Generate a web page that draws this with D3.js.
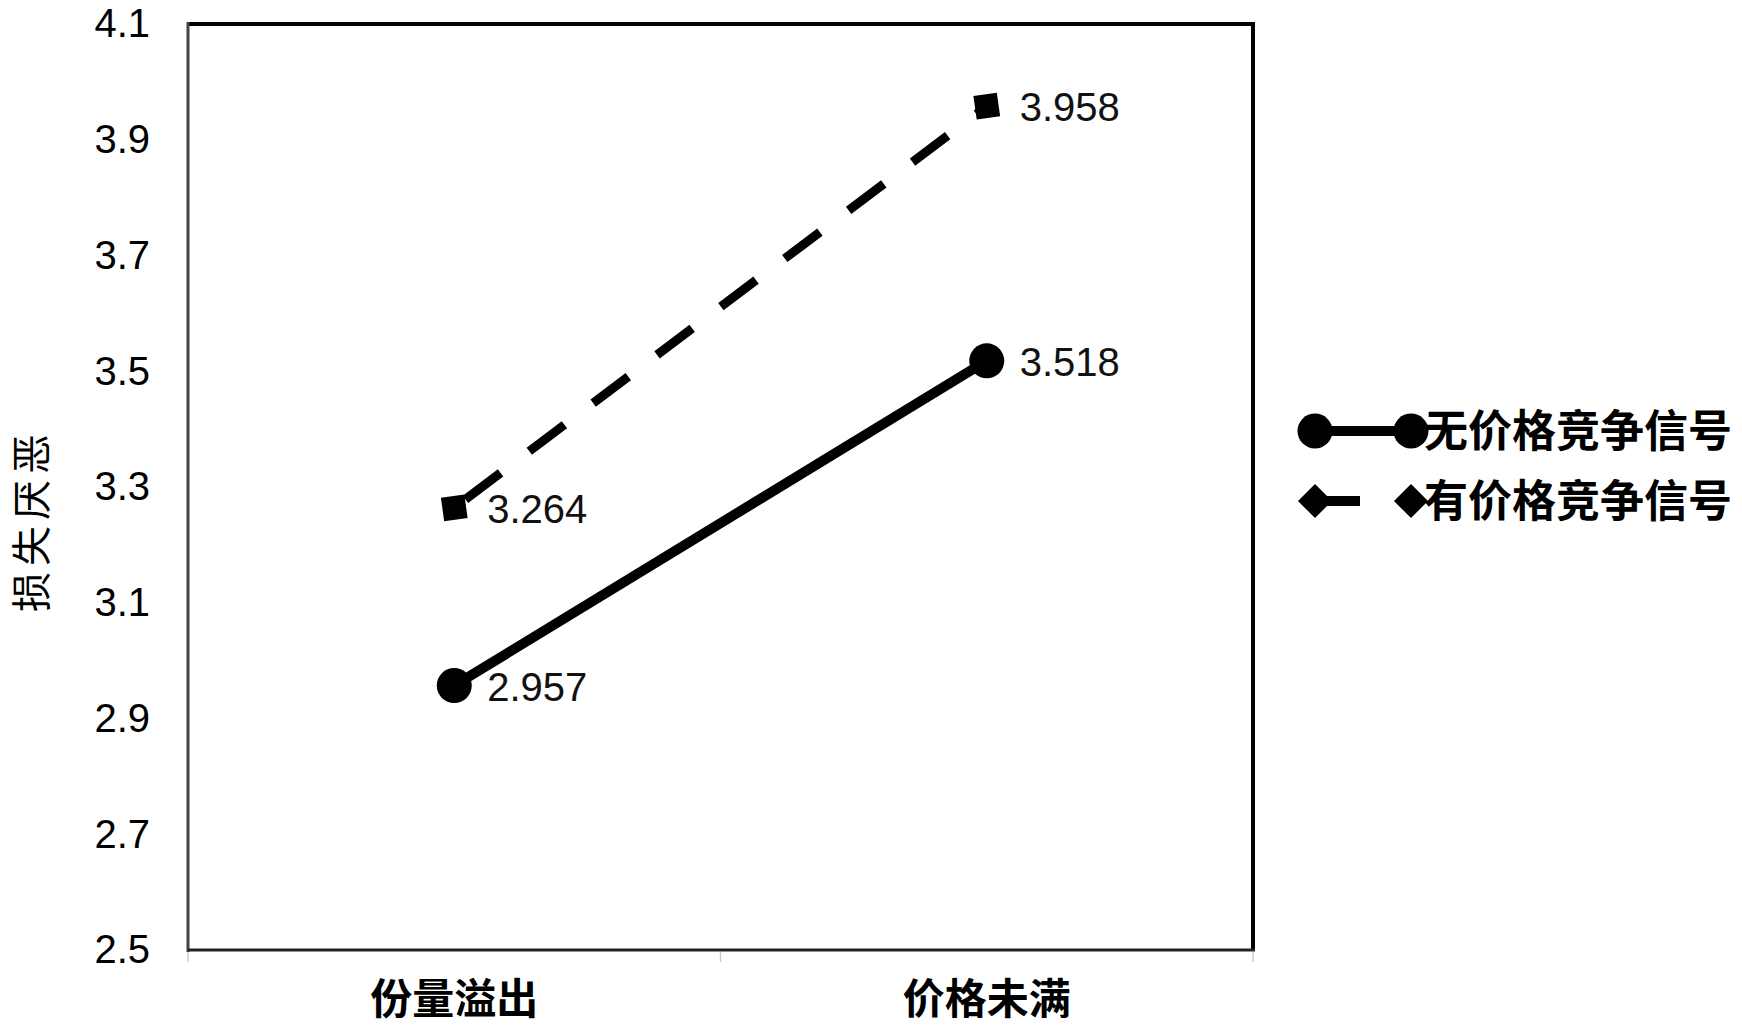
<!DOCTYPE html>
<html>
<head>
<meta charset="utf-8">
<script src="https://cdn.jsdelivr.net/npm/d3@7"></script>
<style>
  body { margin: 0; background: #fff; }
  svg { display: block; }
</style>
</head>
<body>
<div id="graph"></div>
<script>
// données
let categories = ["份量溢出", "价格未满"];
let seriesNames = ["无价格竞争信号", "有价格竞争信号"];
let sansSignal = [2.957, 3.518];
let avecSignal = [3.264, 3.958];
let yTicks = [2.5, 2.7, 2.9, 3.1, 3.3, 3.5, 3.7, 3.9, 4.1];
let titreY = "损失厌恶";

let largeurTotale = 1742,
    hauteurTotale = 1034,
    gauche = 188, droite = 1253, haut = 24, bas = 950;

let cjk = "'Noto Sans CJK SC', 'Noto Sans', sans-serif";
let latin = "'Liberation Sans', Arial, sans-serif";

let svg = d3.select("#graph").append("svg")
    .attr("width", largeurTotale)
    .attr("height", hauteurTotale);

// échelles
let echelleX = d3.scaleBand()
    .domain(categories)
    .range([gauche, droite]);
let echelleY = d3.scaleLinear()
    .domain([2.5, 4.1])
    .range([bas, haut]);
let cx = d => echelleX(d) + echelleX.bandwidth() / 2;

// cadre
svg.append("line").attr("x1", gauche).attr("x2", droite).attr("y1", haut).attr("y2", haut)
    .attr("stroke", "#000").attr("stroke-width", 4);
svg.append("line").attr("x1", droite).attr("x2", droite).attr("y1", haut - 2).attr("y2", bas)
    .attr("stroke", "#000").attr("stroke-width", 4);
svg.append("line").attr("x1", gauche).attr("x2", gauche).attr("y1", haut - 2).attr("y2", bas + 2)
    .attr("stroke", "#444").attr("stroke-width", 3);
svg.append("line").attr("x1", gauche).attr("x2", droite + 2).attr("y1", bas).attr("y2", bas)
    .attr("stroke", "#222").attr("stroke-width", 3);

// petites graduations sous l'axe X
let bords = categories.map(c => echelleX(c)).concat([droite]);
svg.selectAll(".tickx").data(bords).enter().append("line")
    .attr("x1", d => d).attr("x2", d => d)
    .attr("y1", bas + 2).attr("y2", bas + 12)
    .attr("stroke", "#ccc").attr("stroke-width", 1.5);

// axe Y (étiquettes seulement)
let axeY = d3.axisLeft(echelleY).tickValues(yTicks).tickSize(0).tickPadding(38)
    .tickFormat(d3.format(".1f"));
let gY = svg.append("g").attr("transform", "translate(" + gauche + ",0)").call(axeY);
gY.select(".domain").remove();
gY.selectAll("text").attr("font-family", latin).attr("font-size", 40).attr("fill", "#000");

// axe X
let axeX = d3.axisBottom(echelleX).tickSize(0).tickPadding(34);
let gX = svg.append("g").attr("transform", "translate(0," + bas + ")").call(axeX);
gX.select(".domain").remove();
gX.selectAll("text").attr("font-family", cjk).attr("font-size", 42)
    .attr("font-weight", "bold").attr("fill", "#000");

// titre Y
svg.append("text")
    .attr("transform", "translate(46,520) rotate(-90)")
    .attr("text-anchor", "middle")
    .attr("font-family", cjk).attr("font-size", 40).attr("letter-spacing", 6)
    .text(titreY);

let ligne = d3.line().x((d, i) => cx(categories[i])).y(d => echelleY(d));

// série avec signal (tirets)
svg.append("path").datum(avecSignal)
    .attr("d", ligne).attr("fill", "none")
    .attr("stroke", "#000").attr("stroke-width", 9)
    .attr("stroke-dasharray", "44,36").attr("stroke-dashoffset", -14);
svg.selectAll(".carre").data(avecSignal).enter().append("path")
    .attr("d", d3.symbol(d3.symbolSquare, 560))
    .attr("transform", (d, i) => "translate(" + cx(categories[i]) + "," + echelleY(d) + ") rotate(-8)")
    .attr("fill", "#000");

// série sans signal (continue)
svg.append("path").datum(sansSignal)
    .attr("d", ligne).attr("fill", "none")
    .attr("stroke", "#000").attr("stroke-width", 10);
svg.selectAll(".rond").data(sansSignal).enter().append("circle")
    .attr("cx", (d, i) => cx(categories[i])).attr("cy", d => echelleY(d))
    .attr("r", 17.5).attr("fill", "#000");

// étiquettes de valeurs
let toutes = sansSignal.map((v, i) => ({ v: v, i: i })).concat(avecSignal.map((v, i) => ({ v: v, i: i })));
svg.selectAll(".val").data(toutes).enter().append("text")
    .attr("x", d => cx(categories[d.i]) + 33)
    .attr("y", d => echelleY(d.v))
    .attr("dy", "0.38em")
    .attr("font-family", latin).attr("font-size", 40).attr("fill", "#111")
    .text(d => d3.format(".3f")(d.v));

// légende
let legX1 = 1315, legX2 = 1411, legY = [431, 501];
svg.append("line").attr("x1", legX1).attr("x2", legX2).attr("y1", legY[0]).attr("y2", legY[0])
    .attr("stroke", "#000").attr("stroke-width", 10);
[legX1, legX2].forEach(x => svg.append("circle").attr("cx", x).attr("cy", legY[0]).attr("r", 17.5).attr("fill", "#000"));
svg.append("line").attr("x1", legX1).attr("x2", 1360).attr("y1", legY[1]).attr("y2", legY[1])
    .attr("stroke", "#000").attr("stroke-width", 10);
[legX1, legX2].forEach(x => svg.append("path")
    .attr("d", d3.symbol(d3.symbolSquare, 580))
    .attr("transform", "translate(" + x + "," + legY[1] + ") rotate(45)")
    .attr("fill", "#000"));
svg.selectAll(".leg").data(seriesNames).enter().append("text")
    .attr("x", 1424).attr("y", (d, i) => legY[i]).attr("dy", "0.36em")
    .attr("font-family", cjk).attr("font-size", 44).attr("font-weight", "bold")
    .text(d => d);
</script>
</body>
</html>
